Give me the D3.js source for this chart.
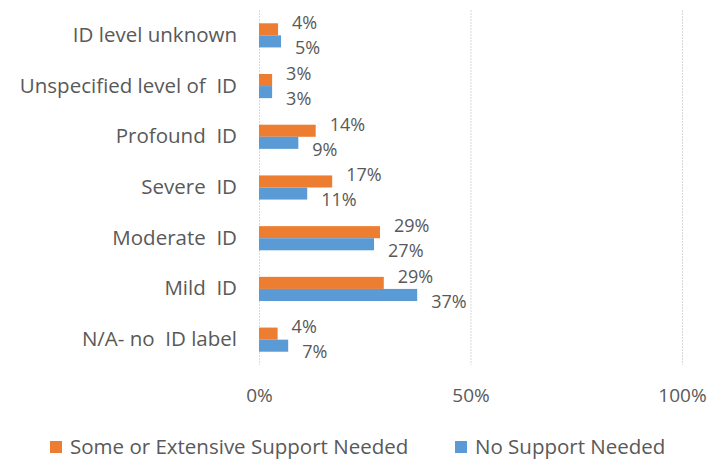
<!DOCTYPE html>
<html>
<head>
<meta charset="utf-8">
<script src="https://cdn.jsdelivr.net/npm/d3@7"></script>
<style>
  body { margin: 0; background: #fff; }
  text { font-family: 'Open Sans', sans-serif; fill: #595959; }
</style>
</head>
<body>
<div id="chart"></div>
<script>
// Chart values
const categories = [
  'ID level unknown',
  'Unspecified level of  ID',
  'Profound  ID',
  'Severe  ID',
  'Moderate  ID',
  'Mild  ID',
  'N/A- no  ID label'
];
const someSupport = [4.5, 3.1, 13.4, 17.3, 28.6, 29.5, 4.4];
const noSupport = [5.2, 3.1, 9.3, 11.4, 27.2, 37.4, 6.9];
const someLabels = ['4%', '3%', '14%', '17%', '29%', '29%', '4%'];
const noLabels = ['5%', '3%', '9%', '11%', '27%', '37%', '7%'];
const xTicks = [0, 50, 100];
const seriesNames = ['Some or Extensive Support Needed', 'No Support Needed'];

const w = 722;
const h = 460;
const orange = '#ED7D31';
const blue = '#5B9BD5';
const fontSize = '20.5px';

const svg = d3.select('#chart')
  .append('svg')
  .attr('width', w)
  .attr('height', h);

const xscale = d3.scaleLinear().domain([0, 100]).range([259, 682]);
const yscale = d3.scaleBand().domain(categories).range([10, 365]);
const inner = d3.scaleBand().domain(['some', 'no'])
  .range([0, yscale.bandwidth()]).paddingOuter(1.1);

// Gridlines
svg.append('g')
  .selectAll('line')
  .data(xTicks)
  .enter()
  .append('line')
  .attr('x1', (d) => xscale(d) + 0.5)
  .attr('x2', (d) => xscale(d) + 0.5)
  .attr('y1', 10)
  .attr('y2', 365)
  .attr('stroke', '#d9d9d9')
  .attr('stroke-width', 1)
  .attr('stroke-dasharray', '2,1');

// x axis tick labels
const xAxis = d3.axisBottom(xscale)
  .tickValues(xTicks)
  .tickFormat((d) => d + '%')
  .tickSize(0)
  .tickPadding(0);
const xg = svg.append('g')
  .attr('transform', 'translate(0, 395)')
  .call(xAxis);
xg.select('.domain').remove();
xg.selectAll('text')
  .attr('dy', '0.35em')
  .style('font-size', '19px')
  .attr('fill', '#595959');

// y axis category labels
const yAxis = d3.axisLeft(yscale).tickSize(0).tickPadding(22);
const yg = svg.append('g')
  .attr('transform', 'translate(259, 0)')
  .call(yAxis);
yg.select('.domain').remove();
yg.selectAll('text')
  .style('font-size', fontSize)
  .style('white-space', 'pre')
  .attr('fill', '#595959');

// Bars and their value labels
const series = [
  { key: 'some', values: someSupport, labels: someLabels, color: orange, shift: -6.5 },
  { key: 'no', values: noSupport, labels: noLabels, color: blue, shift: 6.5 }
];

series.forEach((s) => {
  svg.append('g')
    .selectAll('rect')
    .data(categories)
    .enter()
    .append('rect')
    .attr('x', xscale(0))
    .attr('y', (d) => yscale(d) + inner(s.key))
    .attr('width', (d, i) => xscale(s.values[i]) - xscale(0))
    .attr('height', inner.bandwidth())
    .attr('fill', s.color);

  svg.append('g')
    .selectAll('text')
    .data(categories)
    .enter()
    .append('text')
    .attr('x', (d, i) => xscale(s.values[i]) + 14)
    .attr('y', (d) => yscale(d) + inner(s.key) + inner.bandwidth() / 2 + s.shift)
    .attr('dy', '0.35em')
    .style('font-size', '18px')
    .text((d, i) => s.labels[i]);
});

// Legend
const legendX = [50, 455];
const legend = svg.append('g')
  .selectAll('g')
  .data(seriesNames)
  .enter()
  .append('g')
  .attr('transform', (d, i) => 'translate(' + legendX[i] + ', 441)');
legend.append('rect')
  .attr('width', 12)
  .attr('height', 12)
  .attr('fill', (d, i) => (i === 0 ? orange : blue));
legend.append('text')
  .attr('x', 20)
  .attr('y', 6)
  .attr('dy', '0.35em')
  .style('font-size', fontSize)
  .text((d) => d);
</script>
</body>
</html>
